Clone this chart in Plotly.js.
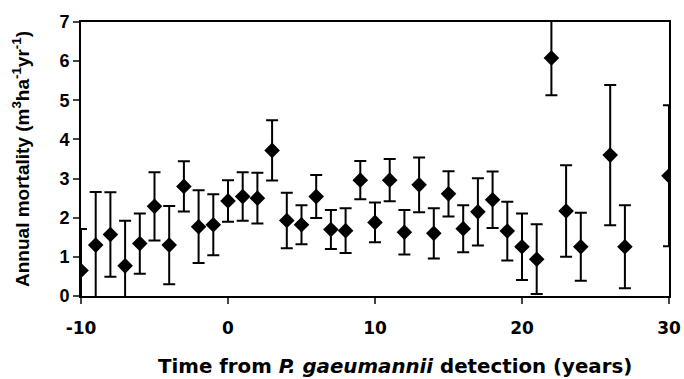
<!DOCTYPE html>
<html>
<head>
<meta charset="utf-8">
<script src="https://cdn.plot.ly/plotly-3.0.1.min.js"></script>
<style>html,body{margin:0;padding:0;background:#fff;}#chart{width:684px;height:379px;}</style>
</head>
<body>
<div id="chart"></div>
<script>
const years = [-10,-9,-8,-7,-6,-5,-4,-3,-2,-1,0,1,2,3,4,5,6,7,8,9,10,11,12,13,14,15,16,17,18,19,20,21,22,23,24,26,27,30];
const mortality = [0.65,1.3,1.57,0.77,1.34,2.29,1.3,2.8,1.77,1.82,2.43,2.54,2.5,3.72,1.93,1.82,2.54,1.7,1.67,2.96,1.88,2.96,1.63,2.84,1.6,2.61,1.72,2.15,2.46,1.66,1.26,0.94,6.08,2.17,1.26,3.6,1.26,3.07];
const errorHalf = [1.06,1.36,1.08,1.15,0.77,0.87,1.0,0.64,0.93,0.78,0.53,0.62,0.65,0.77,0.71,0.5,0.55,0.5,0.57,0.49,0.51,0.54,0.57,0.7,0.64,0.58,0.6,0.86,0.72,0.75,0.85,0.89,0.95,1.17,0.87,1.79,1.06,1.8];
const xTicks = [-10,0,10,20,30];
const yTicks = [0,1,2,3,4,5,6,7];

const font = {family:'Liberation Sans, Arial, sans-serif', color:'#000'};
const wideFont = {family:'DejaVu Sans, Liberation Sans, sans-serif', color:'#000'};
Plotly.newPlot('chart', [{
  x: years, y: mortality, type:'scatter', mode:'markers',
  marker:{symbol:'diamond', size:12, color:'#000'},
  error_y:{type:'data', array:errorHalf, visible:true, color:'#000', thickness:2, width:6},
  cliponaxis:true, showlegend:false
}], {
  width:684, height:379,
  margin:{l:81, r:15, t:22, b:83},
  paper_bgcolor:'#fff', plot_bgcolor:'#fff',
  xaxis:{range:[-10,30], tickvals:xTicks, ticktext:xTicks.map(String), ticks:'outside', ticklen:6, tickwidth:2,
    ticklabelstandoff:10,
    showline:true, linewidth:2, linecolor:'#000', mirror:true, showgrid:false, zeroline:false,
    tickfont:Object.assign({size:17, weight:'bold'}, wideFont)},
  yaxis:{range:[0,7], tickvals:yTicks, ticks:'outside', ticklen:6, tickwidth:2,
    showline:true, linewidth:2, linecolor:'#000', mirror:true, showgrid:false, zeroline:false,
    tickfont:Object.assign({size:18, weight:'bold'}, font),
    title:{text:'Annual mortality (m<sup>3</sup>ha<sup>-1</sup>yr<sup>-1</sup>)', font:Object.assign({size:19, weight:'bold'}, font), standoff:25}},
  annotations:[{xref:'paper', yref:'paper', x:0.534, y:0, yshift:-70, xanchor:'center', yanchor:'middle', showarrow:false,
    text:'Time from <i>P. gaeumannii</i> detection (years)', font:Object.assign({size:19.8, weight:'bold'}, wideFont)}]
}, {staticPlot:true});
</script>
</body>
</html>
